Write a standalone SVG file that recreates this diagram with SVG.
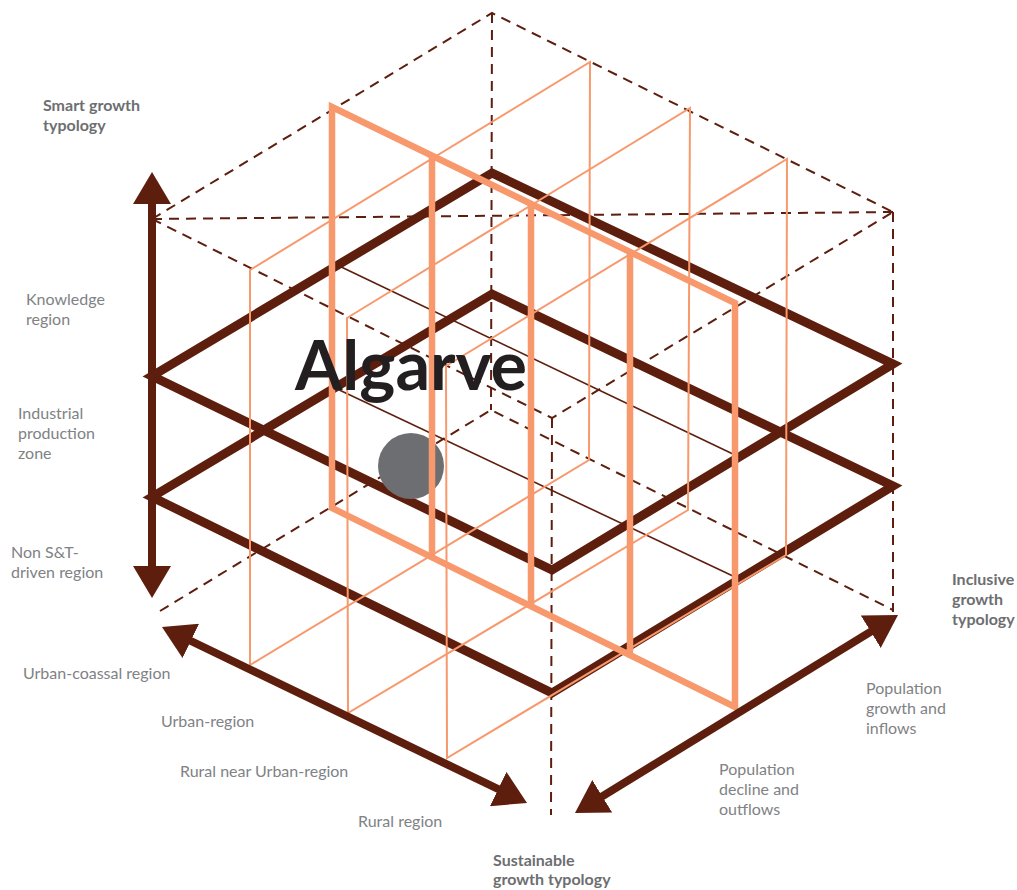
<svg xmlns="http://www.w3.org/2000/svg" width="1017" height="890" viewBox="0 0 1017 890">
<defs>
<style>
.dash{fill:none;stroke:#5E1E0E;stroke-width:2;stroke-dasharray:10 7}
.plane{fill:none;stroke:#5E1E0E;stroke-width:9;stroke-linejoin:miter;stroke-miterlimit:10}
.thin{fill:none;stroke:#5E1E0E;stroke-width:1.6}
.orl{fill:none;stroke:#F7996C;stroke-width:2}
.ort{fill:none;stroke:#F7996C;stroke-width:6.5;stroke-linejoin:miter}
.arr{fill:none;stroke:#5E1E0E;stroke-width:8;marker-start:url(#ah);marker-end:url(#ah)}
.lbl{font-family:Lato,"Open Sans",sans-serif;font-size:16px;fill:#808285}
.ttl{font-family:Lato,"Open Sans",sans-serif;font-size:16px;font-weight:bold;fill:#6D6E71}
.big{font-family:Lato,"Open Sans",sans-serif;font-size:68px;font-weight:bold;fill:#231F20}
</style>
<marker id="ah" viewBox="0 0 32 38" refX="1" refY="19" markerWidth="32" markerHeight="38" markerUnits="userSpaceOnUse" orient="auto-start-reverse">
<path d="M0,0 L32,19 L0,38 Z" fill="#5E1E0E"/>
</marker>
</defs>
<g id="frame">
<path class="dash" d="M152,219 L492,13 L893,212"/>
<path class="dash" d="M152,219 L552,418 L893,212"/>
<path class="dash" d="M152,219 L893,212"/>
<path class="dash" d="M492,13 L491,410"/>
<path class="dash" d="M552,418 L551,815"/>
<path class="dash" d="M893,212 L893,612"/>
<path class="dash" d="M160,611 L491,410 L893,610"/>
</g>
<g id="plane-upper">
<path class="plane" d="M492,173 L152,376 L552,570 L893,364 Z"/>
</g>
<g id="plane-lower">
<path class="plane" d="M492,294 L152,497 L552,693 L893,486 Z"/>
</g>
<g id="intersections">
<path class="thin" d="M335,264 L735,455"/>
<path class="thin" d="M333,387 L735,577"/>
</g>
<g id="thin-planes">
<path class="orl" d="M250,270 L590,62 L589,460 L250,665 Z"/>
<path class="orl" d="M347,318 L690,108 L688,510 L348,713 Z"/>
<path class="orl" d="M446,366 L787,159 L786,555 L447,758 Z"/>
</g>
<g id="algarve-point">
<circle cx="411" cy="466" r="33" fill="#6D6E71"/>
</g>
<g id="thick-plane">
<path class="ort" d="M332,107 L735,303 L735,707 L332,508 Z"/>
<path class="ort" d="M432,156 L432,557"/>
<path class="ort" d="M531,204 L531,606"/>
<path class="ort" d="M630,252 L630,655"/>
</g>
<g id="axes">
<path class="arr" d="M152,203 L152,567"/>
<path class="arr" d="M189.9,640.5 L499.1,789.5"/>
<path class="arr" d="M601.4,796.8 L871.6,631.2"/>
</g>
<g id="labels">
<text class="ttl" x="43" y="111">Smart growth</text>
<text class="ttl" x="43" y="131">typology</text>
<text class="lbl" x="26" y="305">Knowledge</text>
<text class="lbl" x="26" y="325">region</text>
<text class="lbl" x="18" y="419">Industrial</text>
<text class="lbl" x="18" y="439">production</text>
<text class="lbl" x="18" y="459">zone</text>
<text class="lbl" x="11" y="558">Non S&amp;T-</text>
<text class="lbl" x="11" y="578">driven region</text>
<text class="lbl" x="23" y="679">Urban-coassal region</text>
<text class="lbl" x="161" y="727">Urban-region</text>
<text class="lbl" x="180" y="777">Rural near Urban-region</text>
<text class="lbl" x="358" y="827">Rural region</text>
<text class="ttl" x="493" y="866">Sustainable</text>
<text class="ttl" x="493" y="885">growth typology</text>
<text class="ttl" x="952" y="585">Inclusive</text>
<text class="ttl" x="952" y="605">growth</text>
<text class="ttl" x="952" y="625">typology</text>
<text class="lbl" x="866" y="694">Population</text>
<text class="lbl" x="866" y="714">growth and</text>
<text class="lbl" x="866" y="734">inflows</text>
<text class="lbl" x="719" y="775">Population</text>
<text class="lbl" x="719" y="795">decline and</text>
<text class="lbl" x="719" y="815">outflows</text>
</g>
<g id="title">
<text class="big" x="295" y="390" textLength="232" lengthAdjust="spacingAndGlyphs">Algarve</text>
</g>
</svg>
